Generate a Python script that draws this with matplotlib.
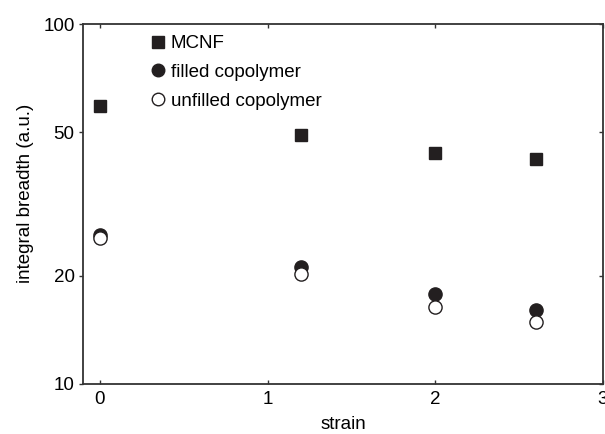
import matplotlib.pyplot as plt
from matplotlib.ticker import FixedLocator, NullLocator, FixedFormatter

plt.rcParams['font.family'] = ['Liberation Sans', 'DejaVu Sans']

strain = [0, 1.2, 2, 2.6]
mcnf = [59.2, 49.1, 43.7, 42.3]
filled = [25.9, 21.2, 17.8, 16.1]
unfilled = [25.5, 20.2, 16.4, 14.9]

yticks = [10, 20, 50, 100]
xticks = [0, 1, 2, 3]

fig = plt.figure(figsize=(6.05, 4.34), dpi=100)
ax = fig.add_axes([83 / 605, 1 - 384 / 434, 520 / 605, 360 / 434])

ax.plot(strain, mcnf, 's', color='#231f20', markersize=9, label='MCNF')
ax.plot(strain, filled, 'o', color='#231f20', markersize=9.5, label='filled copolymer')
ax.plot(strain, unfilled, 'o', markerfacecolor='white', markeredgecolor='#231f20',
        markeredgewidth=1.0, markersize=9.5, label='unfilled copolymer')

ax.set_yscale('log')
ax.set_ylim(10, 100)
ax.set_xlim(-0.1, 3.0)
ax.yaxis.set_major_locator(FixedLocator(yticks))
ax.yaxis.set_major_formatter(FixedFormatter([str(v) for v in yticks]))
ax.yaxis.set_minor_locator(NullLocator())
ax.set_xticks(xticks)

ax.set_xlabel('strain', fontsize=13.5, labelpad=6)
ax.set_ylabel('integral breadth (a.u.)', fontsize=13.5, labelpad=7)
ax.yaxis.label.set_y(0.53)

for s in ax.spines.values():
    s.set_color('#333333')
    s.set_linewidth(1.3)

ax.tick_params(axis='x', which='both', direction='in', top=True, length=3,
               width=1, color='#333333', labelsize=13.5, pad=5)
ax.tick_params(axis='y', which='both', direction='out', length=3,
               width=1, color='#333333', labelsize=13.5, pad=3)

ax2 = ax.twinx()
ax2.set_yscale('log')
ax2.set_ylim(10, 100)
ax2.yaxis.set_major_locator(FixedLocator(yticks))
ax2.yaxis.set_minor_locator(NullLocator())
ax2.tick_params(axis='y', which='both', direction='in', length=3, width=1,
                color='#333333', labelright=False)
for s in ax2.spines.values():
    s.set_visible(False)

leg = ax.legend(loc='upper left', bbox_to_anchor=(0.10, 1.005), frameon=False,
                fontsize=13.5, handletextpad=0.2, labelspacing=0.61,
                handlelength=1.0, markerscale=0.95, borderaxespad=0.3)

fig.savefig('out.png', dpi=100)
